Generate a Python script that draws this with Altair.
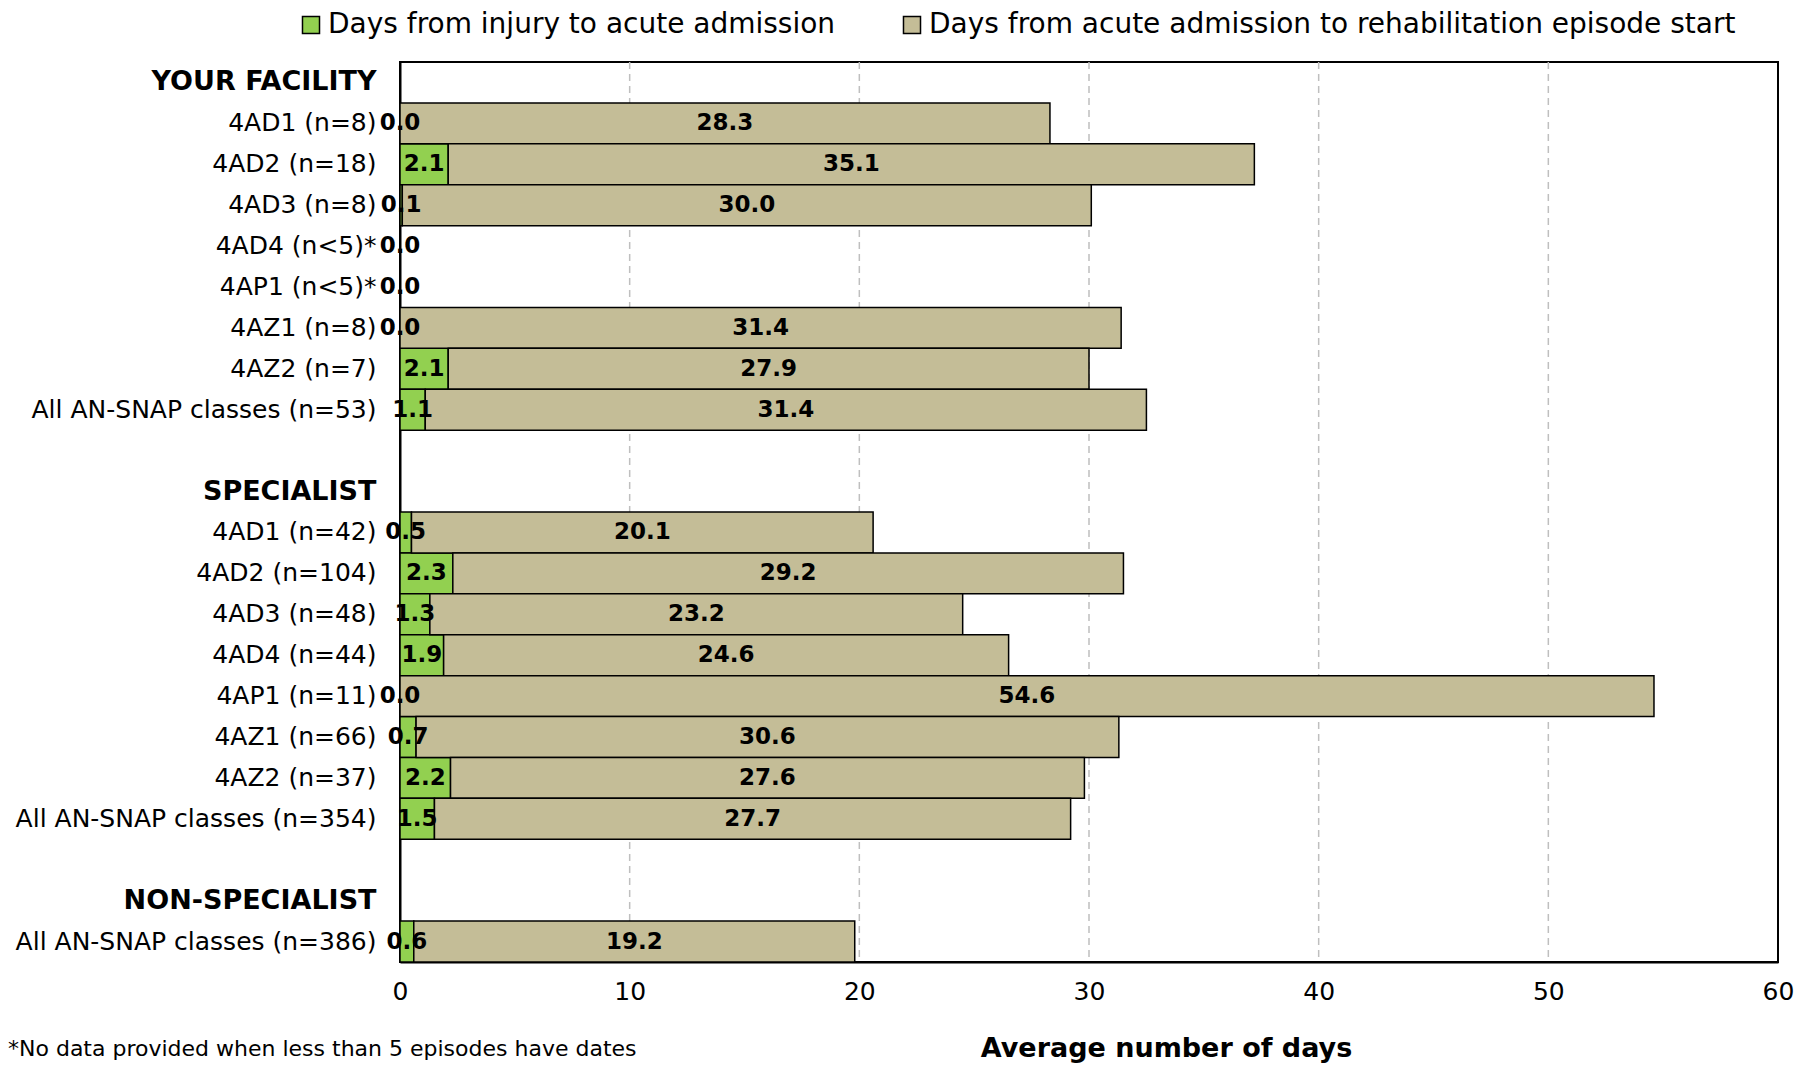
import altair as alt
import pandas as pd

# ---- data ----
series_names = ["Days from injury to acute admission",
                "Days from acute admission to rehabilitation episode start"]
series_colors = ["#92D050", "#C4BD97"]

group_names = ["YOUR FACILITY", "SPECIALIST", "NON-SPECIALIST"]

facility_labels = ["4AD1 (n=8)", "4AD2 (n=18)", "4AD3 (n=8)", "4AD4 (n<5)*",
                   "4AP1 (n<5)*", "4AZ1 (n=8)", "4AZ2 (n=7)", "All AN-SNAP classes (n=53)"]
facility_injury = [0.0, 2.1, 0.1, 0.0, 0.0, 0.0, 2.1, 1.1]
facility_admission = [28.3, 35.1, 30.0, None, None, 31.4, 27.9, 31.4]

specialist_labels = ["4AD1 (n=42)", "4AD2 (n=104)", "4AD3 (n=48)", "4AD4 (n=44)",
                     "4AP1 (n=11)", "4AZ1 (n=66)", "4AZ2 (n=37)", "All AN-SNAP classes (n=354)"]
specialist_injury = [0.5, 2.3, 1.3, 1.9, 0.0, 0.7, 2.2, 1.5]
specialist_admission = [20.1, 29.2, 23.2, 24.6, 54.6, 30.6, 27.6, 27.7]

nonspec_labels = ["All AN-SNAP classes (n=386)"]
nonspec_injury = [0.6]
nonspec_admission = [19.2]

x_ticks = [0, 10, 20, 30, 40, 50, 60]
grid_values = [10, 20, 30, 40, 50]
footnote = "*No data provided when less than 5 episodes have dates"
x_title = "Average number of days"

# ---- build table ----
row_order = ([group_names[0]] + facility_labels + [" "] +
             [group_names[1]] + specialist_labels + ["  "] +
             [group_names[2]] + nonspec_labels)

records = []
for labels, inj, adm in [(facility_labels, facility_injury, facility_admission),
                         (specialist_labels, specialist_injury, specialist_admission),
                         (nonspec_labels, nonspec_injury, nonspec_admission)]:
    for lab, a, b in zip(labels, inj, adm):
        records.append({"row": lab, "series": series_names[0], "order": 0,
                        "start": 0.0, "end": a, "mid": a / 2, "value": a})
        if b is not None:
            records.append({"row": lab, "series": series_names[1], "order": 1,
                            "start": a, "end": a + b, "mid": a + b / 2, "value": b})
df = pd.DataFrame(records)

header_test = "indexof(['YOUR FACILITY','SPECIALIST','NON-SPECIALIST'], datum.value) >= 0"
y_scale = alt.Scale(domain=row_order, paddingInner=0, paddingOuter=0)
x_scale = alt.Scale(domain=[0, 60], nice=False)

y_enc = alt.Y("row:N", scale=y_scale,
              axis=alt.Axis(title=None, ticks=False, grid=False, domainColor="black",
                            domainWidth=2, labelPadding=24, labelLimit=600,
                            labelColor="black",
                            labelFontSize={"condition": {"test": header_test, "value": 27}, "value": 25},
                            labelFontWeight={"condition": {"test": header_test, "value": "bold"}, "value": "normal"}))

x_enc = alt.X("start:Q", scale=x_scale,
              axis=alt.Axis(values=x_ticks, title=x_title, grid=False, ticks=False,
                            domainColor="black", domainWidth=2, labelFlush=False,
                            labelFontSize=25, labelPadding=17, labelColor="black",
                            titleFontSize=27, titleFontWeight="bold", titleColor="black",
                            titleX=766, titleY=86, titleAlign="center",
                            titleBaseline="middle"))

grid = alt.Chart(pd.DataFrame({"g": grid_values})).mark_rule(
    color="#BFBFBF", strokeWidth=1.5, strokeDash=[7, 5]).encode(
    x=alt.X("g:Q", scale=x_scale))

bars = alt.Chart(df).mark_bar(stroke="black", strokeWidth=1.5).encode(
    y=y_enc,
    x=x_enc,
    x2="end:Q",
    color=alt.Color("series:N",
                    scale=alt.Scale(domain=series_names, range=series_colors),
                    legend=alt.Legend(title=None, orient="none", legendX=-103, legendY=-51,
                                      direction="horizontal", labelFontSize=28,
                                      labelLimit=1000, labelColor="black",
                                      symbolType="square", symbolSize=290,
                                      symbolStrokeColor="black", symbolStrokeWidth=1.5,
                                      labelOffset=3, columnPadding=62, padding=0)),
    order=alt.Order("order:Q"),
)

labels = alt.Chart(df).mark_text(fontSize=23, fontWeight="bold", color="black",
                                 baseline="middle", align="center").encode(
    y=alt.Y("row:N", scale=y_scale),
    x=alt.X("mid:Q", scale=x_scale),
    text=alt.Text("value:Q", format=".1f"),
)

note = alt.Chart(pd.DataFrame({"t": [footnote]})).mark_text(
    fontSize=22, align="left", baseline="middle", color="black").encode(
    text="t:N", x=alt.value(-392), y=alt.value(987))

chart = alt.layer(grid, bars, labels, note).properties(
    width=1378, height=900,
    autosize=alt.AutoSizeParams(type="none"),
    padding={"left": 392, "top": 54, "right": 24, "bottom": 104},
).configure(font="DejaVu Sans").configure_view(stroke="black", strokeWidth=2)

chart.save("out.html", embed_options={"renderer": "svg", "actions": False})
